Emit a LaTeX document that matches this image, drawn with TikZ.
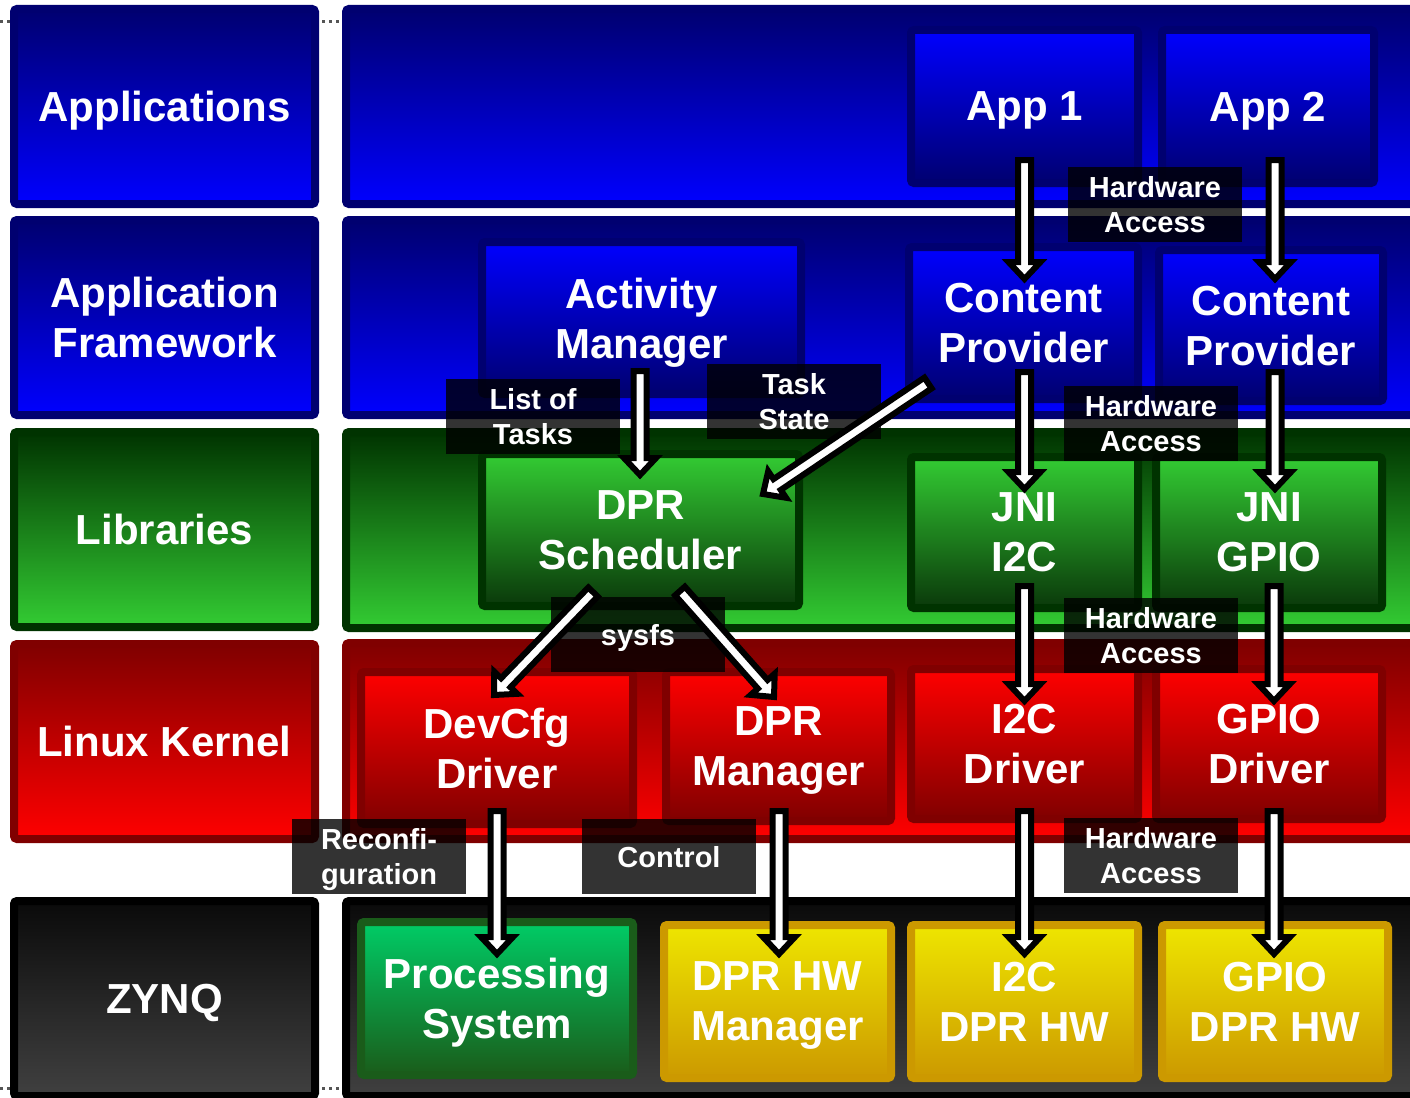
\documentclass[tikz,border=0pt]{standalone}
\usepackage{fontspec}
\setmainfont{Liberation Sans}
\usetikzlibrary{calc}
\definecolor{navyb}{RGB}{0,0,112}
\definecolor{bluef}{RGB}{0,0,255}
\definecolor{dkgreen}{RGB}{0,51,0}
\definecolor{ltgreen}{RGB}{51,204,51}
\definecolor{scdark}{RGB}{10,56,10}
\definecolor{dkred}{RGB}{128,0,0}
\definecolor{ltred}{RGB}{255,0,0}
\definecolor{zdark}{RGB}{10,10,10}
\definecolor{zlight}{RGB}{64,64,64}
\definecolor{psgreen}{RGB}{0,204,102}
\definecolor{psdark}{RGB}{26,92,26}
\definecolor{yel}{RGB}{238,230,0}
\definecolor{ochre}{RGB}{204,153,0}
\definecolor{dotgray}{RGB}{85,85,85}
\tikzset{
  box/.style={line width=8pt, rounded corners=3pt, inner sep=0pt, align=center, text=white,
    font=\bfseries\fontsize{42}{50}\selectfont, text depth=-3pt},
  bluelayer/.style={box, draw=navyb, top color=navyb, bottom color=bluef},
  blueinner/.style={box, draw=navyb, top color=bluef, bottom color=navyb},
  greenlayer/.style={box, draw=dkgreen, top color=dkgreen, bottom color=ltgreen},
  greeninner/.style={box, draw=dkgreen, top color=ltgreen, bottom color=scdark},
  redlayer/.style={box, draw=dkred, top color=dkred, bottom color=ltred},
  redinner/.style={box, draw=dkred, top color=ltred, bottom color=dkred},
  zynqlayer/.style={box, draw=black, top color=zdark, bottom color=zlight},
  psbox/.style={box, draw=psdark, top color=psgreen, bottom color=psdark},
  hwbox/.style={box, draw=ochre, top color=yel, bottom color=ochre},
  tag/.style={fill=black, fill opacity=0.8, text opacity=1, text=white, inner sep=0pt,
    minimum width=174pt, minimum height=75pt, align=center,
    font=\bfseries\fontsize{29}{35}\selectfont, text depth=-1pt},
  fatarr/.style={fill=white, draw=black, line width=6pt, line join=miter},
}
% style, name, x1, y1, x2, y2, text
\newcommand\blk[7]{\node[#1, minimum width={(#5-#3-8)*1pt}, minimum height={(#6-#4-8)*1pt}]
  (#2) at ({(#3+#5)/2},{(#4+#6)/2}) {#7};}
\newcommand\tagat[4]{\node[tag] (#1) at ({#2+87},{#3+37.5}) {#4};}
\newcommand\fatarrow[2]{%
  \coordinate (fa-c) at ($(#2)!17pt!(#1)$);
  \draw[fatarr] ($(#1)!6.5pt!90:(#2)$) -- ($(fa-c)!6.5pt!-90:(#1)$) -- ($(fa-c)!16pt!-90:(#1)$)
    -- (#2) -- ($(fa-c)!16pt!90:(#1)$) -- ($(fa-c)!6.5pt!90:(#1)$) -- ($(#1)!6.5pt!-90:(#2)$) -- cycle;}
\begin{document}
\begin{tikzpicture}[x=1pt,y=-1pt]
\useasboundingbox (0,0) rectangle (1410,1097);
\clip (0,0) rectangle (1410,1097);
\draw[dotgray, line width=3pt, dash pattern=on 3pt off 4pt] (0,22) -- (1410,22);
\draw[dotgray, line width=3pt, dash pattern=on 3pt off 4pt] (0,1088) -- (1410,1088);
% left column
\blk{bluelayer}{lapp}{10}{5}{319}{208}{Applications}
\blk{bluelayer}{lfw}{10}{216}{319}{419}{Application\\Framework}
\blk{greenlayer}{llib}{10}{428}{319}{631}{Libraries}
\blk{redlayer}{lker}{10}{640}{319}{843}{Linux Kernel}
\blk{zynqlayer}{lzy}{10}{897}{319}{1100}{ZYNQ}
% right layers
\blk{bluelayer}{rapp}{342}{5}{1440}{208}{}
\blk{bluelayer}{rfw}{342}{216}{1440}{419}{}
\blk{greenlayer}{rlib}{342}{428}{1440}{632}{}
\blk{redlayer}{rker}{342}{639}{1440}{843}{}
\blk{zynqlayer}{rzy}{342}{897}{1440}{1100}{}
% inner boxes
\blk{blueinner}{app1}{907}{26}{1142}{187}{App 1}
\blk{blueinner}{app2}{1158}{26}{1378}{187}{App 2}
\blk{blueinner}{am}{478}{238}{805}{398}{Activity\\Manager}
\blk{blueinner}{cp1}{905}{243}{1142}{403}{Content\\Provider}
\blk{blueinner}{cp2}{1155}{246}{1387}{405}{Content\\Provider}
\blk{greeninner}{sched}{478}{450}{803}{610}{DPR\\Scheduler}
\blk{greeninner}{jni1}{907}{453}{1142}{612}{JNI\\I2C}
\blk{greeninner}{jni2}{1152}{453}{1386}{612}{JNI\\GPIO}
\blk{redinner}{devcfg}{357}{668}{637}{828}{DevCfg\\Driver}
\blk{redinner}{dprm}{662}{668}{895}{825}{DPR\\Manager}
\blk{redinner}{i2cd}{907}{665}{1142}{823}{I2C\\Driver}
\blk{redinner}{gpiod}{1152}{665}{1386}{823}{GPIO\\Driver}
\blk{psbox}{ps}{357}{918}{637}{1079}{Processing\\System}
\blk{hwbox}{dprhw}{660}{921}{895}{1082}{DPR HW\\Manager}
\blk{hwbox}{i2chw}{907}{921}{1142}{1082}{I2C\\DPR HW}
\blk{hwbox}{gpiohw}{1158}{921}{1392}{1082}{GPIO\\DPR HW}
% labels
\tagat{hw1}{1068}{167}{Hardware\\Access}
\tagat{lot}{446}{379}{List of\\Tasks}
\tagat{ts}{707}{364}{Task\\State}
\tagat{hw2}{1064}{386}{Hardware\\Access}
\tagat{sysfs}{551}{597}{sysfs}
\tagat{hw3}{1064}{598}{Hardware\\Access}
\tagat{reconf}{292}{819}{Reconfi-\\guration}
\tagat{ctrl}{582}{819}{Control}
\tagat{hw4}{1064}{818}{Hardware\\Access}
% arrow end points
\coordinate (a1o) at (1024.5,160); \coordinate (cp1i) at (1024.5,279);
\coordinate (a2o) at (1275,160); \coordinate (cp2i) at (1275,279);
\coordinate (amo) at (640,371); \coordinate (sci) at (640,475);
\coordinate (cp1d) at (928,383); \coordinate (scd) at (763,494);
\coordinate (cp1o) at (1024.5,372); \coordinate (jn1i) at (1024.5,489);
\coordinate (cp2o) at (1275,372); \coordinate (jn2i) at (1275,489);
\coordinate (sco1) at (593,592); \coordinate (dci) at (494,695);
\coordinate (sco2) at (680,591); \coordinate (dmi) at (774,697);
\coordinate (jn1o) at (1024.5,586); \coordinate (i2ci) at (1024.5,701);
\coordinate (jn2o) at (1274,586); \coordinate (gpi) at (1274,701);
\coordinate (dco) at (497,811); \coordinate (psi) at (497,954);
\coordinate (dmo) at (779,811); \coordinate (dhi) at (779,954);
\coordinate (i2co) at (1024.5,811); \coordinate (i2hi) at (1024.5,954);
\coordinate (gpo) at (1274,811); \coordinate (gphi) at (1274,954);
% arrows
\fatarrow{a1o}{cp1i}
\fatarrow{a2o}{cp2i}
\fatarrow{amo}{sci}
\fatarrow{cp1d}{scd}
\fatarrow{cp1o}{jn1i}
\fatarrow{cp2o}{jn2i}
\fatarrow{sco1}{dci}
\fatarrow{sco2}{dmi}
\fatarrow{jn1o}{i2ci}
\fatarrow{jn2o}{gpi}
\fatarrow{dco}{psi}
\fatarrow{dmo}{dhi}
\fatarrow{i2co}{i2hi}
\fatarrow{gpo}{gphi}
\end{tikzpicture}
\end{document}
